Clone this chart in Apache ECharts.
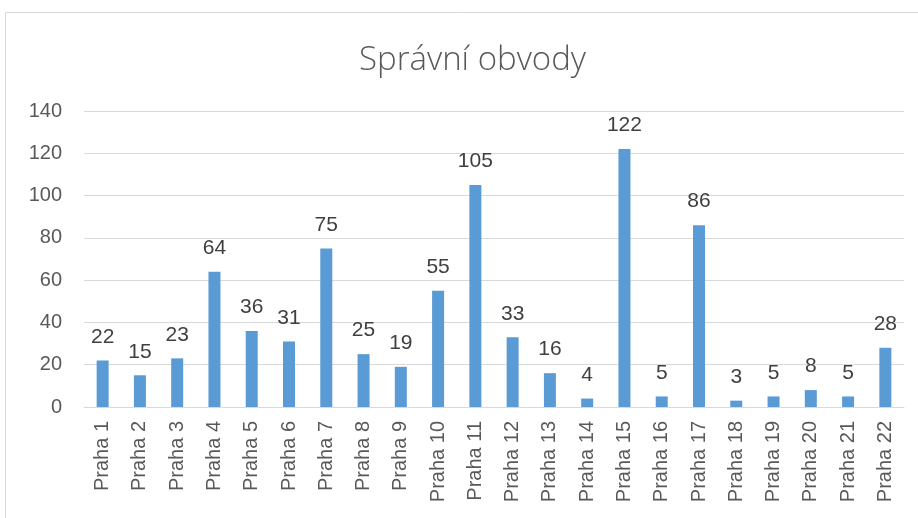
<!DOCTYPE html>
<html>
<head>
<meta charset="utf-8">
<script src="https://cdn.jsdelivr.net/npm/echarts@6/dist/echarts.min.js"></script>
<style>
  html, body { margin: 0; padding: 0; background: #fff; }
  #chart-container { width: 918px; height: 518px; }
</style>
</head>
<body>
<div id="chart-container"></div>
<script>
var categories = [
  "Praha 1", "Praha 2", "Praha 3", "Praha 4", "Praha 5", "Praha 6",
  "Praha 7", "Praha 8", "Praha 9", "Praha 10", "Praha 11", "Praha 12",
  "Praha 13", "Praha 14", "Praha 15", "Praha 16", "Praha 17", "Praha 18",
  "Praha 19", "Praha 20", "Praha 21", "Praha 22"
];
var values = [22, 15, 23, 64, 36, 31, 75, 25, 19, 55, 105, 33, 16, 4, 122, 5, 86, 3, 5, 8, 5, 28];
var chartTitle = "Správní obvody";

var textColor = "#595959";
var gridColor = "#d9d9d9";
var font = "'Liberation Sans', Arial, sans-serif";

var dom = document.getElementById("chart-container");
var myChart = echarts.init(dom, null, { renderer: "canvas" });

var option = {
  backgroundColor: "#ffffff",
  animation: false,
  title: {
    text: chartTitle,
    left: 354,
    top: 39,
    textStyle: {
      fontFamily: "'Open Sans', 'Noto Sans', sans-serif",
      fontWeight: 300,
      fontSize: 33,
      color: textColor,
    },
  },
  graphic: [
    {
      type: "rect",
      shape: { x: 5.5, y: 12.5, width: 930, height: 530 },
      style: { fill: "none", stroke: gridColor, lineWidth: 1 },
      silent: true,
    },
  ],
  grid: {
    left: 84,
    right: 14,
    top: 111,
    bottom: 111,
  },
  xAxis: {
    type: "category",
    data: categories,
    axisTick: { show: false },
    axisLine: { lineStyle: { color: gridColor, width: 1 } },
    axisLabel: {
      rotate: 90,
      margin: 14,
      interval: 0,
      color: textColor,
      fontFamily: font,
      fontSize: 20,
    },
  },
  yAxis: {
    type: "value",
    min: 0,
    max: 140,
    interval: 20,
    axisLine: { show: false },
    axisTick: { show: false },
    splitLine: { lineStyle: { color: gridColor, width: 1 } },
    axisLabel: {
      margin: 22,
      color: textColor,
      fontFamily: font,
      fontSize: 20,
    },
  },
  series: [
    {
      name: chartTitle,
      type: "bar",
      data: values,
      barWidth: 12,
      itemStyle: { color: "#5b9bd5" },
      label: {
        show: true,
        position: "top",
        distance: 13,
        color: "#404040",
        fontFamily: font,
        fontSize: 21,
      },
    },
  ],
};

if (option && typeof option === "object") {
  myChart.setOption(option);
}

window.addEventListener("resize", myChart.resize);
</script>
</body>
</html>
